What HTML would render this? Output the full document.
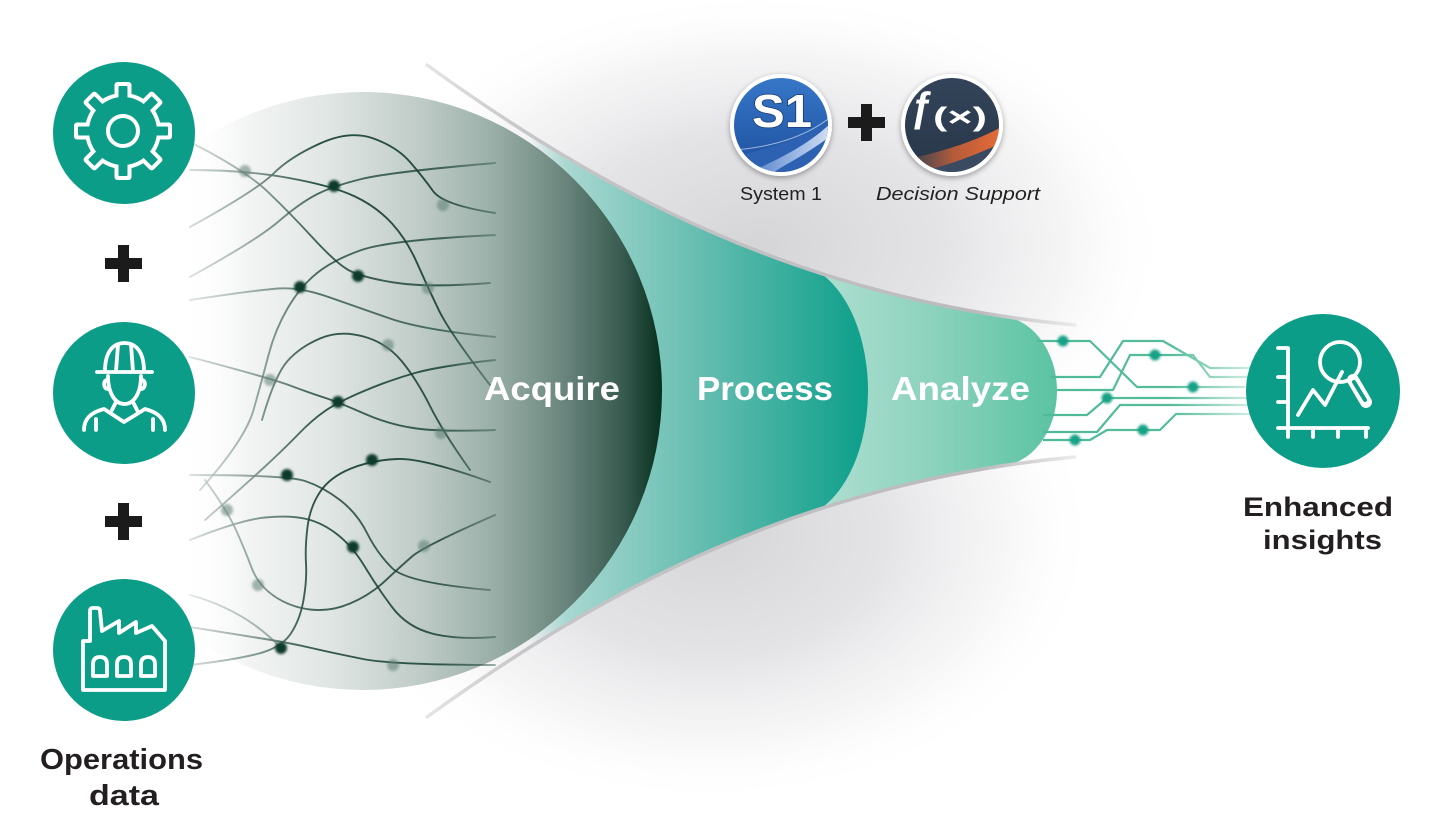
<!DOCTYPE html>
<html><head><meta charset="utf-8"><style>
html,body{margin:0;padding:0;background:#fff;}
svg{display:block;}
text{font-family:"Liberation Sans",Arial,sans-serif;}
</style></head><body>
<svg width="1431" height="830" viewBox="0 0 1431 830" xmlns="http://www.w3.org/2000/svg">
<defs>
  <radialGradient id="shT">
    <stop offset="0" stop-color="#d5d5d8" stop-opacity="1"/>
    <stop offset="0.45" stop-color="#dfdfe2" stop-opacity="0.85"/>
    <stop offset="0.75" stop-color="#ebebed" stop-opacity="0.5"/>
    <stop offset="1" stop-color="#ffffff" stop-opacity="0"/>
  </radialGradient>
  <radialGradient id="shB">
    <stop offset="0" stop-color="#d5d5d8" stop-opacity="1"/>
    <stop offset="0.45" stop-color="#dfdfe2" stop-opacity="0.85"/>
    <stop offset="0.75" stop-color="#ebebed" stop-opacity="0.45"/>
    <stop offset="1" stop-color="#ffffff" stop-opacity="0"/>
  </radialGradient>
  <linearGradient id="disk" gradientUnits="userSpaceOnUse" x1="180" y1="0" x2="662" y2="0">
    <stop offset="0" stop-color="#ffffff" stop-opacity="0"/>
    <stop offset="0.145" stop-color="#f2f4f3"/>
    <stop offset="0.31" stop-color="#e0e6e4"/>
    <stop offset="0.5" stop-color="#bfcbc7"/>
    <stop offset="0.645" stop-color="#9bb0a9"/>
    <stop offset="0.79" stop-color="#6c877f"/>
    <stop offset="0.915" stop-color="#3a5c51"/>
    <stop offset="1" stop-color="#07301f"/>
  </linearGradient>
  <linearGradient id="proc" gradientUnits="userSpaceOnUse" x1="500" y1="0" x2="868" y2="0">
    <stop offset="0" stop-color="#a8d8d1" stop-opacity="0"/>
    <stop offset="0.08" stop-color="#a8d8d1" stop-opacity="0"/>
    <stop offset="0.18" stop-color="#a8d8d1"/>
    <stop offset="0.5" stop-color="#6ec0b4"/>
    <stop offset="1" stop-color="#0c9f8a"/>
  </linearGradient>
  <linearGradient id="anal" gradientUnits="userSpaceOnUse" x1="790" y1="0" x2="1057" y2="0">
    <stop offset="0" stop-color="#b8e2d6"/>
    <stop offset="0.5" stop-color="#8fd3be"/>
    <stop offset="1" stop-color="#5ac3a2"/>
  </linearGradient>
  <linearGradient id="gline" gradientUnits="userSpaceOnUse" x1="427" y1="0" x2="1078" y2="0">
    <stop offset="0" stop-color="#e4e4e4"/>
    <stop offset="0.15" stop-color="#c6c6c8"/>
    <stop offset="0.85" stop-color="#bbbbbe"/>
    <stop offset="1" stop-color="#ececec"/>
  </linearGradient>
  <linearGradient id="circ" gradientUnits="userSpaceOnUse" x1="1035" y1="0" x2="1262" y2="0">
    <stop offset="0" stop-color="#4fba98"/>
    <stop offset="0.6" stop-color="#55bc9b"/>
    <stop offset="1" stop-color="#e2f3ed"/>
  </linearGradient>
  <linearGradient id="nmg" gradientUnits="userSpaceOnUse" x1="185" y1="0" x2="530" y2="0">
    <stop offset="0" stop-color="#2a2a2a"/>
    <stop offset="0.19" stop-color="#8a8a8a"/>
    <stop offset="0.39" stop-color="#ffffff"/>
    <stop offset="0.74" stop-color="#ffffff"/>
    <stop offset="0.91" stop-color="#707070"/>
    <stop offset="1" stop-color="#000000"/>
  </linearGradient>
  <mask id="nm" maskUnits="userSpaceOnUse" x="0" y="0" width="1431" height="830">
    <rect x="0" y="0" width="1431" height="830" fill="url(#nmg)"/>
  </mask>
  <clipPath id="funnel">
    <path d="M427,65 C600,190 800,300 1075,325 L1075,457 C800,482 600,592 427,717 Z"/>
  </clipPath>
  <filter id="blur1" x="-50%" y="-50%" width="200%" height="200%"><feGaussianBlur stdDeviation="1.3"/></filter>
  <filter id="ds" x="-30%" y="-30%" width="160%" height="160%"><feDropShadow dx="0" dy="2" stdDeviation="3" flood-color="#000" flood-opacity="0.35"/></filter>
  <linearGradient id="s1g" x1="0" y1="0" x2="0" y2="1">
    <stop offset="0" stop-color="#3777c8"/>
    <stop offset="1" stop-color="#1d4f9e"/>
  </linearGradient>
  <linearGradient id="s1sw" x1="0" y1="0" x2="1" y2="0">
    <stop offset="0" stop-color="#4f80c9"/>
    <stop offset="0.6" stop-color="#a9c3ea"/>
    <stop offset="1" stop-color="#e6eefa"/>
  </linearGradient>
  <linearGradient id="fxg" x1="0" y1="0" x2="0" y2="1">
    <stop offset="0" stop-color="#33445a"/>
    <stop offset="1" stop-color="#283648"/>
  </linearGradient>
  <linearGradient id="fxsw" gradientUnits="userSpaceOnUse" x1="905" y1="0" x2="1003" y2="0">
    <stop offset="0" stop-color="#7a5a50" stop-opacity="0.2"/>
    <stop offset="0.5" stop-color="#b75b3a"/>
    <stop offset="1" stop-color="#e86c38"/>
  </linearGradient>
  <clipPath id="s1c"><circle cx="781" cy="125" r="47"/></clipPath>
  <clipPath id="fxc"><circle cx="952" cy="125" r="47"/></clipPath>
</defs>

<rect x="0" y="0" width="1431" height="830" fill="#ffffff"/>

<!-- shading -->
<ellipse cx="760" cy="245" rx="410" ry="255" fill="url(#shT)"/>
<ellipse cx="710" cy="535" rx="390" ry="270" fill="url(#shB)"/>

<!-- analyze & process fills -->
<g clip-path="url(#funnel)">
  <rect x="770" y="0" width="230" height="830" fill="url(#anal)"/>
  <ellipse cx="998" cy="391" rx="59" ry="75" fill="url(#anal)"/>
  <rect x="480" y="0" width="311" height="830" fill="url(#proc)"/>
  <ellipse cx="790" cy="391" rx="78" ry="128" fill="url(#proc)"/>
</g>

<!-- gray funnel lines -->
<path d="M427,65 C600,190 800,300 1075,325" fill="none" stroke="url(#gline)" stroke-width="3.5" stroke-linecap="round"/>
<path d="M427,717 C600,592 800,482 1075,457" fill="none" stroke="url(#gline)" stroke-width="3.5" stroke-linecap="round"/>

<!-- acquire disk -->
<circle cx="363" cy="391" r="299" fill="url(#disk)"/>

<!-- network -->
<g mask="url(#nm)" fill="none" stroke="#163e31" stroke-width="1.9" stroke-linecap="round">
  <path d="M190,142 Q245,170 267.5,191.5 Q290,213 312.5,237.5 Q335,262 347.5,269.5 Q360,277 394,282.5 Q428,288 490,283" stroke-opacity="0.8"/>
  <path d="M190,170 Q245,170 289,178 Q333,186 355,196.5 Q377,207 392,223.5 Q407,240 417.5,264 Q428,288 439,310.5 Q450,333 490,385" stroke-opacity="0.9"/>
  <path d="M190,227 Q257,190 273.5,173.5 Q290,157 320,143.5 Q350,130 373.5,138.5 Q397,147 410,162 Q423,177 433,191 Q443,205 495,213" stroke-opacity="0.9"/>
  <path d="M190,277 Q257,240 278.5,221.5 Q300,203 316.5,194.5 Q333,186 361.5,179 Q390,172 495,163" stroke-opacity="0.75"/>
  <path d="M190,300 Q257,290 278.5,288.5 Q300,287 328.5,297 Q357,307 390,318.5 Q423,330 495,337" stroke-opacity="0.7"/>
  <path d="M495,235 Q390,240 361.5,250 Q333,260 316.5,273.5 Q300,287 287.5,308.5 Q275,330 268.5,355 Q262,380 253.5,410 Q245,440 200,490" stroke-opacity="0.75"/>
  <path d="M262,420 Q275,375 287.5,361 Q300,347 320,338.5 Q340,330 363.5,336.5 Q387,343 402,361.5 Q417,380 430,406 Q443,432 470,470" stroke-opacity="0.85"/>
  <path d="M190,357 Q270,378 290,385.5 Q310,393 324,397.5 Q338,402 364,413.5 Q390,425 416.5,428.5 Q443,432 495,430" stroke-opacity="0.8"/>
  <path d="M205,520 Q245,485 265,466.5 Q285,448 298.5,434 Q312,420 325,411 Q338,402 364,391 Q390,380 415,373 Q440,366 495,360" stroke-opacity="0.85"/>
  <path d="M190,475 Q287,475 305,481 Q323,487 340,500 Q357,513 367,533 Q377,553 392,568 Q407,583 490,590" stroke-opacity="0.8"/>
  <path d="M490,482 Q423,458 397.5,459 Q372,460 351,468.5 Q330,477 320,492 Q310,507 307.5,527 Q305,547 306,563.5 Q307,580 303.5,600 Q300,620 290.5,634 Q281,648 257,654 Q233,660 190,665" stroke-opacity="0.9"/>
  <path d="M205,480 Q227,510 236,530 Q245,550 251.5,567.5 Q258,585 274,596 Q290,607 310,609.5 Q330,612 350,603.5 Q370,595 385,581 Q400,567 412,556.5 Q424,546 495,515" stroke-opacity="0.8"/>
  <path d="M190,540 Q240,520 265,517.5 Q290,515 306.5,519 Q323,523 338,535 Q353,547 365,567 Q377,587 392,607 Q407,627 432,633.5 Q457,640 495,637" stroke-opacity="0.85"/>
  <path d="M190,627 Q240,635 265,639 Q290,643 311.5,648 Q333,653 363,659 Q393,665 495,665" stroke-opacity="0.85"/>
  <path d="M190,595 Q245,610 281,648" stroke-opacity="0.6"/>
</g>
<!-- network dots -->
<g filter="url(#blur1)">
  <g fill="#0f3a2c">
    <circle cx="334" cy="186" r="6"/>
    <circle cx="358" cy="276" r="6"/>
    <circle cx="300" cy="287" r="6"/>
    <circle cx="338" cy="402" r="6"/>
    <circle cx="287" cy="475" r="6"/>
    <circle cx="372" cy="460" r="6"/>
    <circle cx="353" cy="547" r="6"/>
    <circle cx="281" cy="648" r="6"/>
  </g>
  <g fill="#5d7d73" fill-opacity="0.55">
    <circle cx="245" cy="171" r="6"/>
    <circle cx="443" cy="205" r="6"/>
    <circle cx="428" cy="288" r="6"/>
    <circle cx="388" cy="345" r="6"/>
    <circle cx="270" cy="380" r="6"/>
    <circle cx="441" cy="433" r="6"/>
    <circle cx="227" cy="510" r="6"/>
    <circle cx="424" cy="546" r="6"/>
    <circle cx="258" cy="585" r="6"/>
    <circle cx="393" cy="665" r="6"/>
  </g>
</g>

<!-- stage labels -->
<g font-weight="bold" font-size="33" fill="#ffffff">
  <text x="484" y="400" textLength="136" lengthAdjust="spacingAndGlyphs">Acquire</text>
  <text x="697" y="400" textLength="136" lengthAdjust="spacingAndGlyphs">Process</text>
  <text x="891" y="400" textLength="139" lengthAdjust="spacingAndGlyphs">Analyze</text>
</g>

<!-- circuit lines -->
<g fill="none" stroke="url(#circ)" stroke-width="2.2" stroke-linejoin="round">
  <path d="M1037,341 H1090 L1137,387 H1245"/>
  <path d="M1050,377 H1100 L1123,341 H1163 L1210,368 H1260"/>
  <path d="M1057,390 H1113 L1130,355 H1193 L1210,377 H1260"/>
  <path d="M1043,415 H1087 L1107,398 H1260"/>
  <path d="M1043,432 H1097 L1120,405 H1260"/>
  <path d="M1043,440 H1090 L1107,430 H1160 L1176,414 H1260"/>
</g>
<g fill="#14a286" filter="url(#blur1)">
  <circle cx="1063" cy="341" r="5.5"/>
  <circle cx="1155" cy="355" r="5.5"/>
  <circle cx="1193" cy="387" r="5.5"/>
  <circle cx="1107" cy="398" r="5.5"/>
  <circle cx="1143" cy="430" r="5.5"/>
  <circle cx="1075" cy="440" r="5.5"/>
</g>

<!-- left icons -->
<circle cx="124" cy="133" r="71" fill="#0b9d88"/>
<circle cx="124" cy="393" r="71" fill="#0b9d88"/>
<circle cx="124" cy="650" r="71" fill="#0b9d88"/>

<!-- gear -->
<g transform="translate(123,131)">
  <g fill="#ffffff">
    <circle r="38"/>
    <rect x="-8.5" y="-49" width="17" height="20" rx="3"/>
    <rect x="-8.5" y="-49" width="17" height="20" rx="3" transform="rotate(45)"/>
    <rect x="-8.5" y="-49" width="17" height="20" rx="3" transform="rotate(90)"/>
    <rect x="-8.5" y="-49" width="17" height="20" rx="3" transform="rotate(135)"/>
    <rect x="-8.5" y="-49" width="17" height="20" rx="3" transform="rotate(180)"/>
    <rect x="-8.5" y="-49" width="17" height="20" rx="3" transform="rotate(225)"/>
    <rect x="-8.5" y="-49" width="17" height="20" rx="3" transform="rotate(270)"/>
    <rect x="-8.5" y="-49" width="17" height="20" rx="3" transform="rotate(315)"/>
  </g>
  <g fill="#0b9d88">
    <circle r="34"/>
    <rect x="-4.5" y="-45" width="9" height="14" rx="1"/>
    <rect x="-4.5" y="-45" width="9" height="14" rx="1" transform="rotate(45)"/>
    <rect x="-4.5" y="-45" width="9" height="14" rx="1" transform="rotate(90)"/>
    <rect x="-4.5" y="-45" width="9" height="14" rx="1" transform="rotate(135)"/>
    <rect x="-4.5" y="-45" width="9" height="14" rx="1" transform="rotate(180)"/>
    <rect x="-4.5" y="-45" width="9" height="14" rx="1" transform="rotate(225)"/>
    <rect x="-4.5" y="-45" width="9" height="14" rx="1" transform="rotate(270)"/>
    <rect x="-4.5" y="-45" width="9" height="14" rx="1" transform="rotate(315)"/>
  </g>
  <circle r="15" fill="none" stroke="#ffffff" stroke-width="4"/>
</g>

<!-- worker -->
<g fill="none" stroke="#ffffff" stroke-width="3.8" stroke-linecap="round" stroke-linejoin="round">
  <path d="M105,371 C105,352 113,343 124.5,343 C136,343 144,352 144,371"/>
  <path d="M97,372 H152"/>
  <path d="M118,345 L116,371 M131,345 L133,371"/>
  <path d="M108,376 C108,393 115,404 124.5,404 C134,404 141,393 141,376"/>
  <path d="M107,380 C103,380 103,389 108,389 M142,380 C146,380 146,389 141,389"/>
  <path d="M84,430 C84,418 92,412 104,409 L124,422 L145,409 C157,412 165,418 165,430"/>
  <path d="M116,402 L112,410 M133,402 L137,410"/>
  <path d="M96,419 V430 M153,419 V430"/>
</g>

<!-- factory -->
<g fill="none" stroke="#ffffff" stroke-width="3.8" stroke-linecap="round" stroke-linejoin="round">
  <path d="M83,690 V641 H90 V611 Q90,608 93,608 H97 Q100,608 100,611 L102,631 L119,621 V633 L136,622 V633 L152,626 L165,641 V690 Z"/>
  <path d="M93,676 V664 Q93,657 100,657 Q107,657 107,664 V676 Z"/>
  <path d="M117,676 V664 Q117,657 124,657 Q131,657 131,664 V676 Z"/>
  <path d="M141,676 V664 Q141,657 148,657 Q155,657 155,664 V676 Z"/>
</g>

<!-- pluses -->
<g fill="#1b1b1b">
  <rect x="105" y="258" width="37" height="11"/>
  <rect x="118" y="245" width="11" height="37"/>
  <rect x="105" y="516" width="37" height="11"/>
  <rect x="118" y="503" width="11" height="37"/>
  <rect x="848" y="117" width="37" height="11"/>
  <rect x="861" y="104" width="11" height="37"/>
</g>

<!-- labels -->
<g font-weight="bold" fill="#231f20">
  <text x="40" y="769" font-size="29" textLength="163" lengthAdjust="spacingAndGlyphs">Operations</text>
  <text x="89" y="805" font-size="29" textLength="70" lengthAdjust="spacingAndGlyphs">data</text>
  <text x="1243" y="516" font-size="27" textLength="150" lengthAdjust="spacingAndGlyphs">Enhanced</text>
  <text x="1263" y="549" font-size="27" textLength="119" lengthAdjust="spacingAndGlyphs">insights</text>
</g>

<!-- right icon -->
<circle cx="1323" cy="391" r="77" fill="#0b9d88"/>
<g fill="none" stroke="#ffffff" stroke-width="3.8" stroke-linecap="round" stroke-linejoin="round">
  <path d="M1278,348 H1288 V437"/>
  <path d="M1278,377 H1288 M1278,402 H1288"/>
  <path d="M1278,428 H1368"/>
  <path d="M1313,428 V437 M1338,428 V437 M1366,428 V437"/>
  <path d="M1298,415 L1313,390 L1325,405 L1342,372"/>
  <circle cx="1340" cy="362" r="20"/>
</g>
<path d="M1353,380 L1366,402" stroke="#ffffff" stroke-width="12" stroke-linecap="round"/>
<path d="M1354,382 L1365,400" stroke="#0b9d88" stroke-width="4" stroke-linecap="round"/>

<!-- S1 logo -->
<circle cx="781" cy="125" r="51" fill="#ffffff" filter="url(#ds)"/>
<circle cx="781" cy="125" r="47" fill="url(#s1g)"/>
<g clip-path="url(#s1c)">
  <path d="M730,158 C760,150 800,142 832,118 L832,180 L730,180 Z" fill="#2d62b3"/>
  <path d="M745,175 C775,160 805,148 832,122 L832,135 C810,152 785,165 760,180 Z" fill="url(#s1sw)" opacity="0.9"/>
  <path d="M735,150 C770,147 805,138 832,116" fill="none" stroke="#cfe0f6" stroke-width="1" opacity="0.7"/>
</g>
<text x="752" y="127" font-size="46" font-weight="bold" fill="#ffffff" stroke="#173a72" stroke-width="1.5" paint-order="stroke" textLength="60" lengthAdjust="spacingAndGlyphs">S1</text>

<!-- f(x) logo -->
<circle cx="952" cy="125" r="51" fill="#ffffff" filter="url(#ds)"/>
<circle cx="952" cy="125" r="47" fill="url(#fxg)"/>
<g clip-path="url(#fxc)">
  <path d="M905,160 C940,152 975,142 1003,126 L1003,142 C975,156 945,167 912,176 Z" fill="url(#fxsw)"/>
  <path d="M905,176 C940,168 975,156 1003,142 L1003,180 L905,180 Z" fill="#3a4a60"/>
</g>
<text x="911" y="121" font-size="42" font-weight="bold" fill="#ffffff" textLength="22" lengthAdjust="spacingAndGlyphs">ƒ</text>
<text x="933" y="126" font-size="27" font-weight="bold" fill="#ffffff" textLength="54" lengthAdjust="spacingAndGlyphs">(×)</text>

<text x="740" y="200" font-size="18" fill="#222222" textLength="82" lengthAdjust="spacingAndGlyphs">System 1</text>
<text x="876" y="200" font-size="18" font-style="italic" fill="#222222" textLength="164" lengthAdjust="spacingAndGlyphs">Decision Support</text>
</svg>
</body></html>
